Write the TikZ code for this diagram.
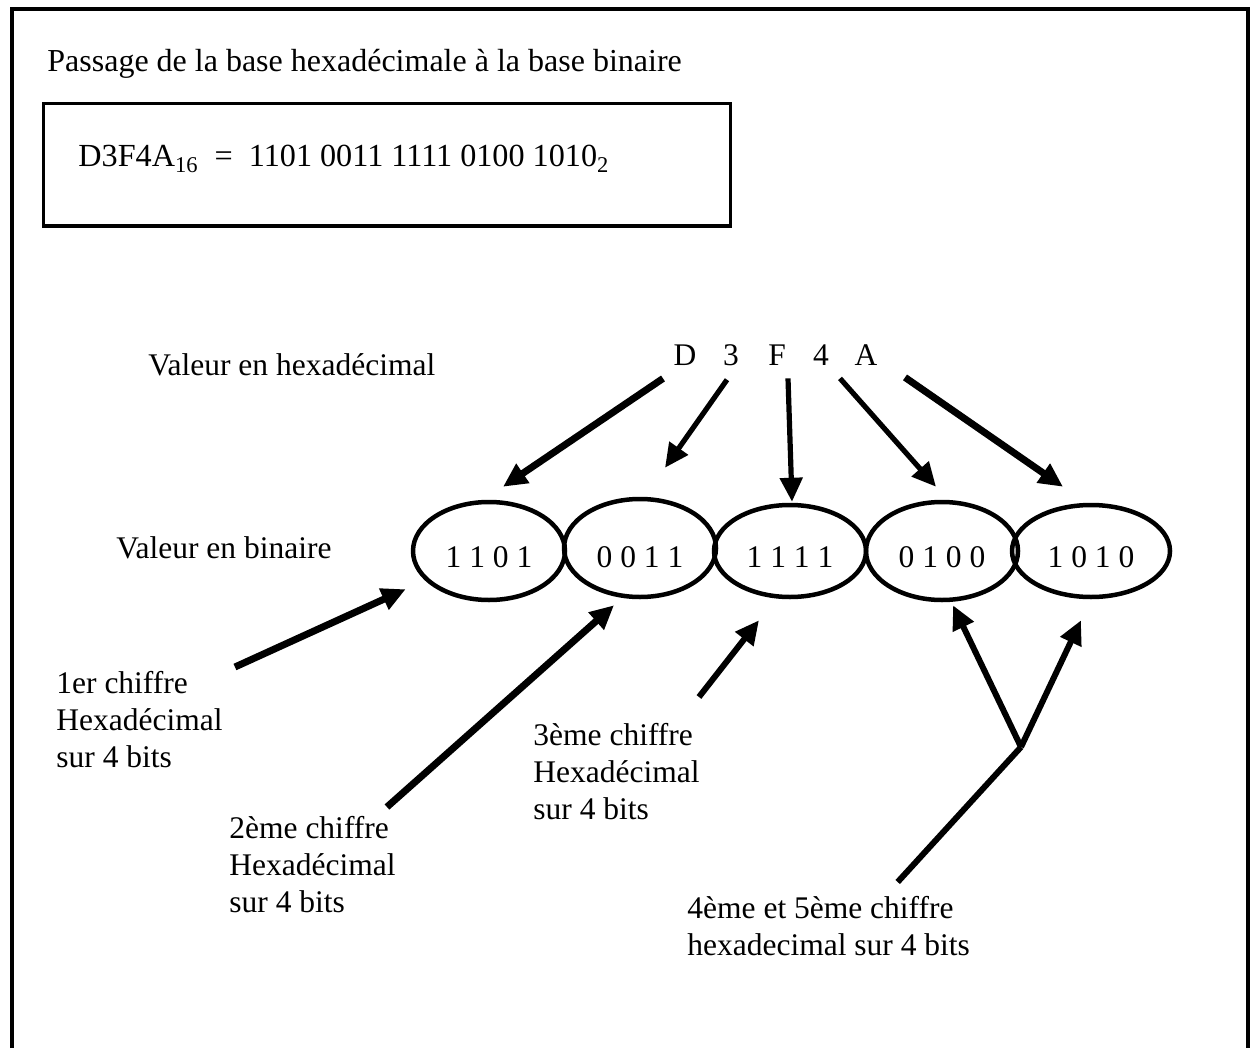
\documentclass[tikz,border=0pt]{standalone}
\usepackage{fontspec}
\setmainfont{Liberation Serif}
\usetikzlibrary{shapes.geometric,arrows.meta}

\tikzset{
  txt/.style={inner sep=0pt, font=\fontsize{15.75}{18.5}\selectfont},
  lbl/.style={txt, align=left, anchor=north west},
  bin/.style={ellipse, draw, line width=2.25pt, inner sep=0pt, minimum width=76pt, minimum height=49pt, text height=16pt, text depth=0pt, font=\fontsize{15.75}{18.5}\selectfont},
  bigarr/.style={line width=3.5pt, -{Triangle[length=12pt,width=11pt]}},
  smallarr/.style={line width=2.6pt, -{Triangle[length=12pt,width=11pt]}}
}

\begin{document}
\begin{tikzpicture}[x=0.5pt,y=-0.5pt]
\useasboundingbox (0,0) rectangle (1251,1048);

% page frame (open at the bottom)
\draw[line width=2.25pt] (12,1048) -- (12,9) -- (1248,9) -- (1248,1048);

\node[txt, anchor=base west, font=\fontsize{16}{19}\selectfont] (titre) at (47,72) {Passage de la base hexadécimale à la base binaire};

% formula box
\draw[line width=1.5pt] (43,104) rectangle (730,226);
\node[inner sep=0pt, anchor=base west, font=\fontsize{16.1}{19}\selectfont] (formule) at (78,167)
  {D3F4A\textsubscript{16} ~=~ 1101 0011 1111 0100 1010\textsubscript{2}};

\node[txt, anchor=base west] (hexa) at (148,375) {Valeur en hexadécimal};
\node[txt, anchor=base west] (bina) at (116,558) {Valeur en binaire};

% hex digits
\node[txt, anchor=base] (hD) at (685,365) {D};
\node[txt, anchor=base] (h3) at (731,365) {3};
\node[txt, anchor=base] (hF) at (777,365) {F};
\node[txt, anchor=base] (h4) at (821,365) {4};
\node[txt, anchor=base] (hA) at (866,365) {A};

% binary groups
\node[bin] (b1) at (489,551) {1 1 0 1};
\node[bin, text height=19pt] (b2) at (640,548) {0 0 1 1};
\node[bin, minimum height=46pt] (b3) at (790,551) {1 1 1 1};
\node[bin] (b4) at (942,551) {0 1 0 0};
\node[bin, minimum width=79pt, minimum height=46pt] (b5) at (1091,551) {1 0 1 0};

\draw[bigarr] ([shift={(-22,13)}]hD.south) -- ([shift={(14,-13)}]b1.north);
\draw[smallarr] ([shift={(-4,14)}]h3.south) -- ([shift={(25,-29)}]b2.north);
\draw[smallarr] ([shift={(11,13)}]hF.south) -- ([shift={(2,-1)}]b3.north);
\draw[smallarr] ([shift={(19,13)}]h4.south) -- ([shift={(-6,-13)}]b4.north);
\draw[bigarr] ([shift={(39,12)}]hA.south) -- ([shift={(-28,-16)}]b5.north);

% labels under the groups
\node[lbl] (c1) at (56,667) {\strut 1er chiffre\\Hexadécimal\\sur 4 bits};
\node[lbl] (c2) at (229,812) {\strut 2ème chiffre\\Hexadécimal\\sur 4 bits};
\node[lbl] (c3) at (533,719) {\strut 3ème chiffre\\Hexadécimal\\sur 4 bits};
\node[lbl] (c45) at (687,892) {\strut 4ème et 5ème chiffre\\hexadecimal sur 4 bits};

\draw[bigarr] ([shift={(12,0)}]c1.north east) -- ([shift={(-28,2)}]b1.south west);
\draw[bigarr] ([shift={(-9,-5)}]c2.north east) -- ([shift={(-26,6)}]b2.south);
\draw[smallarr, line width=3pt] ([shift={(-1,-22)}]c3.north east) -- ([shift={(-31,21)}]b3.south);

% fork to the last two groups
\coordinate (fourche) at (1021,747);
\draw[line width=3pt] ([shift={(69,-10)}]c45.north) -- (fourche);
\draw[smallarr, line width=3pt] (fourche) -- ([shift={(11,3)}]b4.south);
\draw[smallarr, line width=3pt] (fourche) -- ([shift={(-10,21)}]b5.south);
\end{tikzpicture}
\end{document}
